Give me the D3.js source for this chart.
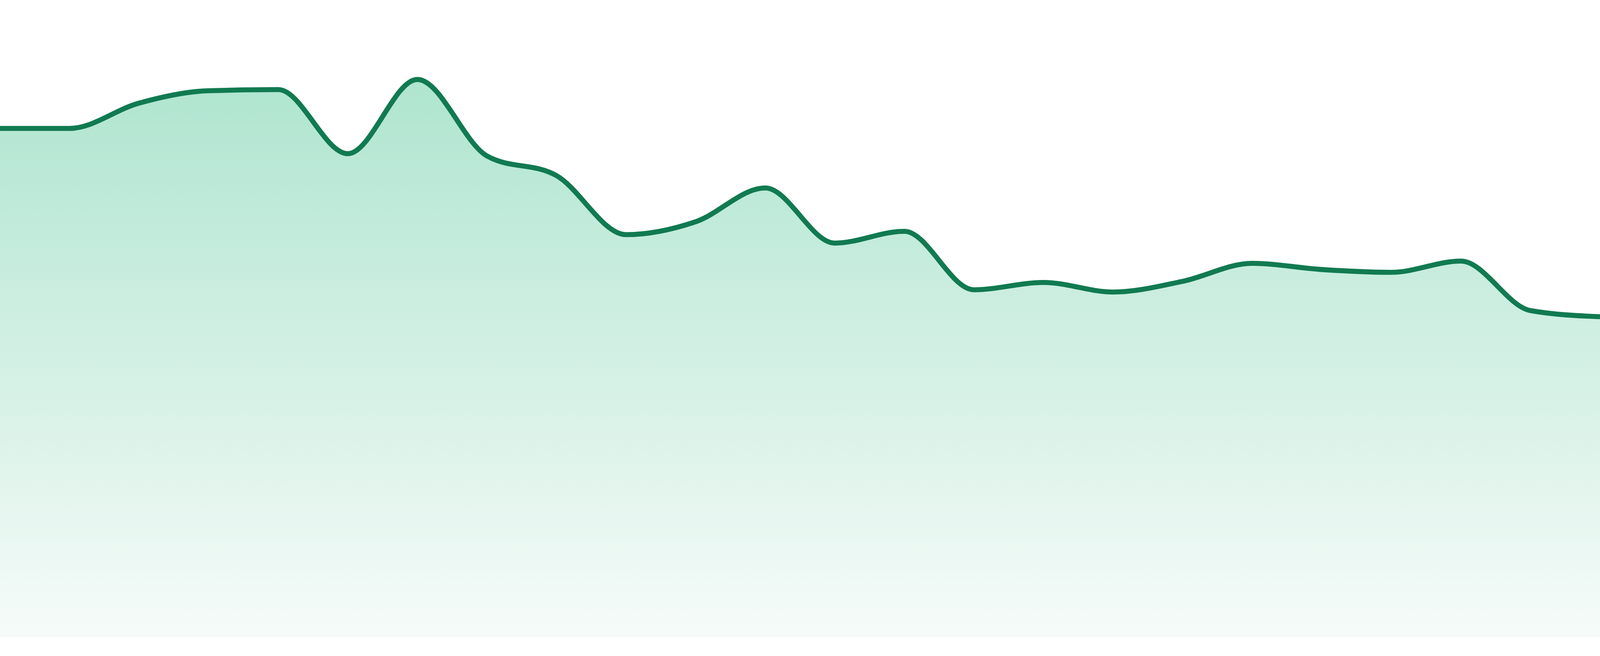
<!DOCTYPE html>
<html>
<head>
<meta charset="utf-8">
<script src="https://cdn.jsdelivr.net/npm/d3@7"></script>
<style>
  html, body { margin: 0; padding: 0; background: #fff; overflow: hidden; }
  #chart { width: 100vw; height: 100vh; }
  #chart svg { display: block; }
</style>
</head>
<body>
<div id="chart"></div>
<script>
// Periods along the x axis (no labels are shown on the chart)
const periods = d3.range(1, 25);

// Series values, one per period
const values = [
  90.5, 90.5, 95.0, 97.2, 97.4, 86.0, 99.2, 85.6,
  82.1, 71.6, 73.9, 79.9, 70.1, 72.2, 61.8, 63.1,
  61.4, 63.3, 66.5, 65.4, 64.9, 66.9, 58.1, 57.0
];

// Value range shown on the (hidden) y axis
const yDomain = [0, 100];

// Drawing space; the svg is stretched to fill the window
const width = 4800;
const height = 1680;
const margin = { top: 192, right: 0, bottom: 48, left: 0 };

const container = document.getElementById('chart');
// screen px per drawing unit, used to keep the line weight steady
const k = container.clientWidth / width;

const data = periods.map((p, i) => ({ period: p, value: values[i] }));

const svg = d3.select(container)
  .append('svg')
  .attr('width', '100%')
  .attr('height', '100%')
  .attr('viewBox', `0 0 ${width} ${height}`)
  .attr('preserveAspectRatio', 'none');

const x = d3.scalePoint()
  .domain(periods)
  .range([margin.left, width - margin.right]);

const y = d3.scaleLinear()
  .domain(yDomain)
  .range([height - margin.bottom, margin.top]);

// Vertical gradient under the line
const grad = svg.append('defs')
  .append('linearGradient')
  .attr('id', 'areaFill')
  .attr('gradientUnits', 'userSpaceOnUse')
  .attr('x1', 0).attr('x2', 0)
  .attr('y1', y(d3.max(values)))
  .attr('y2', y(0));

grad.append('stop').attr('offset', '0%').attr('stop-color', '#afe5cf');
grad.append('stop').attr('offset', '100%').attr('stop-color', '#f6fbf9');

const area = d3.area()
  .x(d => x(d.period))
  .y0(y(0))
  .y1(d => y(d.value))
  .curve(d3.curveMonotoneX);

const line = d3.line()
  .x(d => x(d.period))
  .y(d => y(d.value))
  .curve(d3.curveMonotoneX);

svg.append('path')
  .datum(data)
  .attr('d', area)
  .style('fill', 'url(#areaFill)');

svg.append('path')
  .datum(data)
  .attr('d', line)
  .attr('vector-effect', 'non-scaling-stroke')
  .style('fill', 'none')
  .style('stroke', '#117a50')
  .style('stroke-width', 15 * k)
  .style('stroke-linejoin', 'round');
</script>
</body>
</html>
